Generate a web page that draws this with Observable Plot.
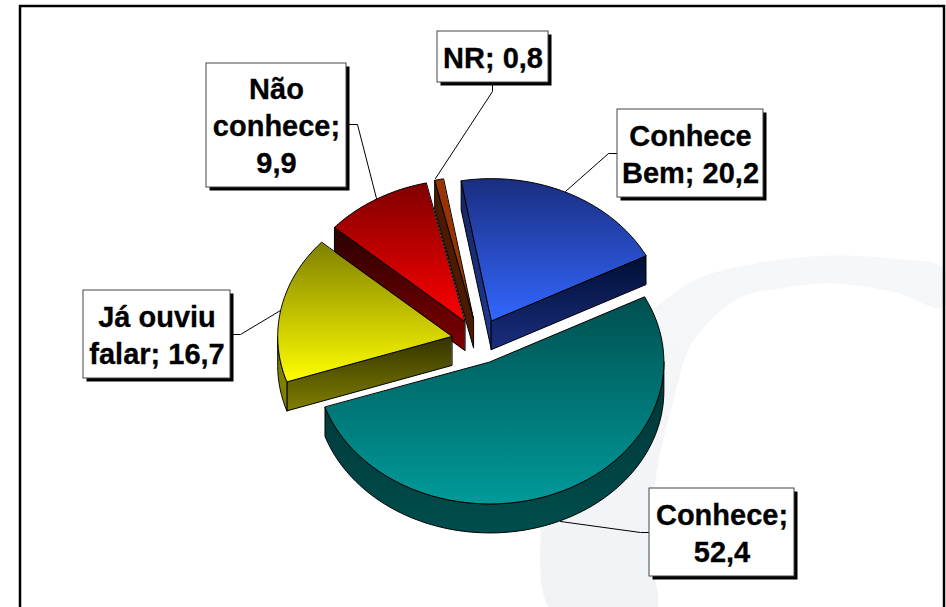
<!DOCTYPE html>
<html>
<head>
<meta charset="utf-8">
<style>html,body{margin:0;padding:0;background:#fff}svg{display:block}</style>
<script src="https://cdn.jsdelivr.net/npm/d3@7"></script>
<script src="https://cdn.jsdelivr.net/npm/@observablehq/plot@0.6"></script>
</head>
<body>
<div id="chart"></div>
<script>
// --- data ---
const categories = ["Conhece Bem", "Conhece", "Já ouviu falar", "Não conhece", "NR"];
const values = [20.2, 52.4, 16.7, 9.9, 0.8];
const labelTexts = ["Conhece\nBem; 20,2", "Conhece;\n52,4", "Já ouviu\nfalar; 16,7", "Não\nconhece;\n9,9", "NR; 0,8"];

// --- layout (pie projection) ---
const W = 946, H = 607;
const centre = [478.5, 340.5], rx = 174, ry = 142, depth = 29, explode = 0.16, firstAngle = -10;

// --- layout (labels: left, top, right, bottom) ---
const boxes = [[617,109,763,197],[649,488,794,576],[83,290,230,378],[206,63,346,187],[437,31,548,82]];
const leaders = [
  [[617,153],[608,153],[565,191]],
  [[649,532],[640,532],[560,521]],
  [[230,334],[240,334],[280,310]],
  [[347,124],[357,124],[376,198]],
  [[492,84],[492,91],[435,178]]
];

// --- layout (faint background crescent) ---
const crescent = [[553,612],[540,530],[560,420],[610,350],[660,303],[700,277],[760,262],[830,255],[890,258],[943,268],
                  [943,307],[895,292],[830,283],[780,288],[740,297],[693,340],[673,400],[655,480],[650,550],[654,612]];

// --- colours ---
const gradients = {
  blueTop: ["#1a2e80", "#3366ff"], blueA: ["#14245f", "#1f3a96"], blueB: ["#000f33", "#1a2e80"],
  tealTop: ["#004f4f", "#009a9a"], tealRim: ["#003434", "#004d4d"],
  yellowTop: ["#808000", "#ffff00"], yellowA: ["#333300", "#808000"], yellowRim: ["#808000", "#808000"],
  redTop: ["#800000", "#ff0000"], redA: ["#2a0000", "#800000"],
  nrTop: ["#993300", "#993300"], nrA: ["#4d1a00", "#4d1a00"],
  band: ["#f6f7f9", "#f0f3f6"]
};
const sliceStyles = [
  {top: "blueTop", a: "blueA", b: "blueB", rim: "blueB"},
  {top: "tealTop", a: "tealRim", b: "tealRim", rim: "tealRim"},
  {top: "yellowTop", a: "yellowA", b: "yellowA", rim: "yellowRim"},
  {top: "redTop", a: "redA", b: "redA", rim: "redA"},
  {top: "nrTop", a: "nrA", b: "nrA", rim: "nrA"}
];
const drawOrder = [0, 4, 3, 2, 1];

// --- geometry from the values ---
const rad = Math.PI / 180;
const arcs = d3.pie().sort(null).startAngle(firstAngle * rad).endAngle((firstAngle + 360) * rad)(values);
const pt = (c, a, dz = 0) => ({x: c[0] + rx * Math.sin(a), y: c[1] - ry * Math.cos(a) + dz});
function rimPoints(c, a0, a1, dz = 0) {
  const n = Math.max(2, Math.ceil((a1 - a0) / rad));
  return d3.range(n + 1).map(i => pt(c, a0 + (a1 - a0) * i / n, dz));
}
function faces(i) {
  const arc = arcs[i], a0 = arc.startAngle, a1 = arc.endAngle, mid = (a0 + a1) / 2;
  const c = [centre[0] + explode * rx * Math.sin(mid), centre[1] - explode * ry * Math.cos(mid)];
  const apex = {x: c[0], y: c[1]}, apexLow = {x: c[0], y: c[1] + depth};
  const st = sliceStyles[i], out = [];
  if (Math.sin(a0) < 0) out.push({g: st.a, pts: [apex, pt(c, a0), pt(c, a0, depth), apexLow]});
  if (Math.sin(a1) > 0) out.push({g: st.b, pts: [apex, pt(c, a1), pt(c, a1, depth), apexLow]});
  const r0 = Math.max(a0, 90 * rad), r1 = Math.min(a1, 270 * rad);
  if (r1 > r0) out.push({g: st.rim, pts: [...rimPoints(c, r0, r1), ...rimPoints(c, r0, r1, depth).reverse()]});
  out.push({g: st.top, pts: [apex, ...rimPoints(c, a0, a1)]});
  return out;
}

function defs() {
  const d = d3.create("svg:defs");
  for (const [id, [a, b]] of Object.entries(gradients)) {
    const g = d.append("linearGradient").attr("id", id).attr("x1", 0).attr("y1", 0).attr("x2", 0).attr("y2", 1);
    g.append("stop").attr("offset", "0%").attr("stop-color", a);
    g.append("stop").attr("offset", "100%").attr("stop-color", b);
  }
  return d.node();
}

const sliceMarks = drawOrder.flatMap(i => faces(i).map(f =>
  Plot.line(f.pts, {x: "x", y: "y", fill: `url(#${f.g})`, stroke: "#000", strokeWidth: 1, curve: "linear-closed"})
));

const boxRows = boxes.map((b, i) => ({x1: b[0], y1: b[1], x2: b[2], y2: b[3], label: labelTexts[i], name: categories[i]}));

const chart = Plot.plot({
  width: W, height: H, margin: 0,
  x: {domain: [0, W], range: [0, W], axis: null},
  y: {domain: [0, H], range: [0, H], axis: null},
  style: {background: "#fff"},
  marks: [
    defs,
    Plot.line(crescent, {x: d => d[0], y: d => d[1], fill: "url(#band)", stroke: "none", curve: "catmull-rom-closed"}),
    Plot.rect([{x1: 20, y1: 6, x2: 944, y2: 640}], {x1: "x1", y1: "y1", x2: "x2", y2: "y2", fill: "none", stroke: "#000", strokeWidth: 2.5}),
    ...leaders.map(l => Plot.line(l, {x: d => d[0], y: d => d[1], stroke: "#000", strokeWidth: 1})),
    ...sliceMarks,
    Plot.rect(boxRows, {x1: "x1", y1: "y1", x2: "x2", y2: "y2", fill: "#000", dx: 3.5, dy: 3.5}),
    Plot.rect(boxRows, {x1: "x1", y1: "y1", x2: "x2", y2: "y2", fill: "#fff", stroke: "#444", strokeWidth: 1}),
    Plot.text(boxRows, {
      x: d => (d.x1 + d.x2) / 2, y: d => (d.y1 + d.y2) / 2 - 1, text: "label",
      fontFamily: "Liberation Sans", fontWeight: "bold", fontSize: 29, lineHeight: 1.28, fill: "#000", stroke: "#000", strokeWidth: 0.3, textAnchor: "middle"
    })
  ]
});
document.getElementById("chart").append(chart);
</script>
</body>
</html>
